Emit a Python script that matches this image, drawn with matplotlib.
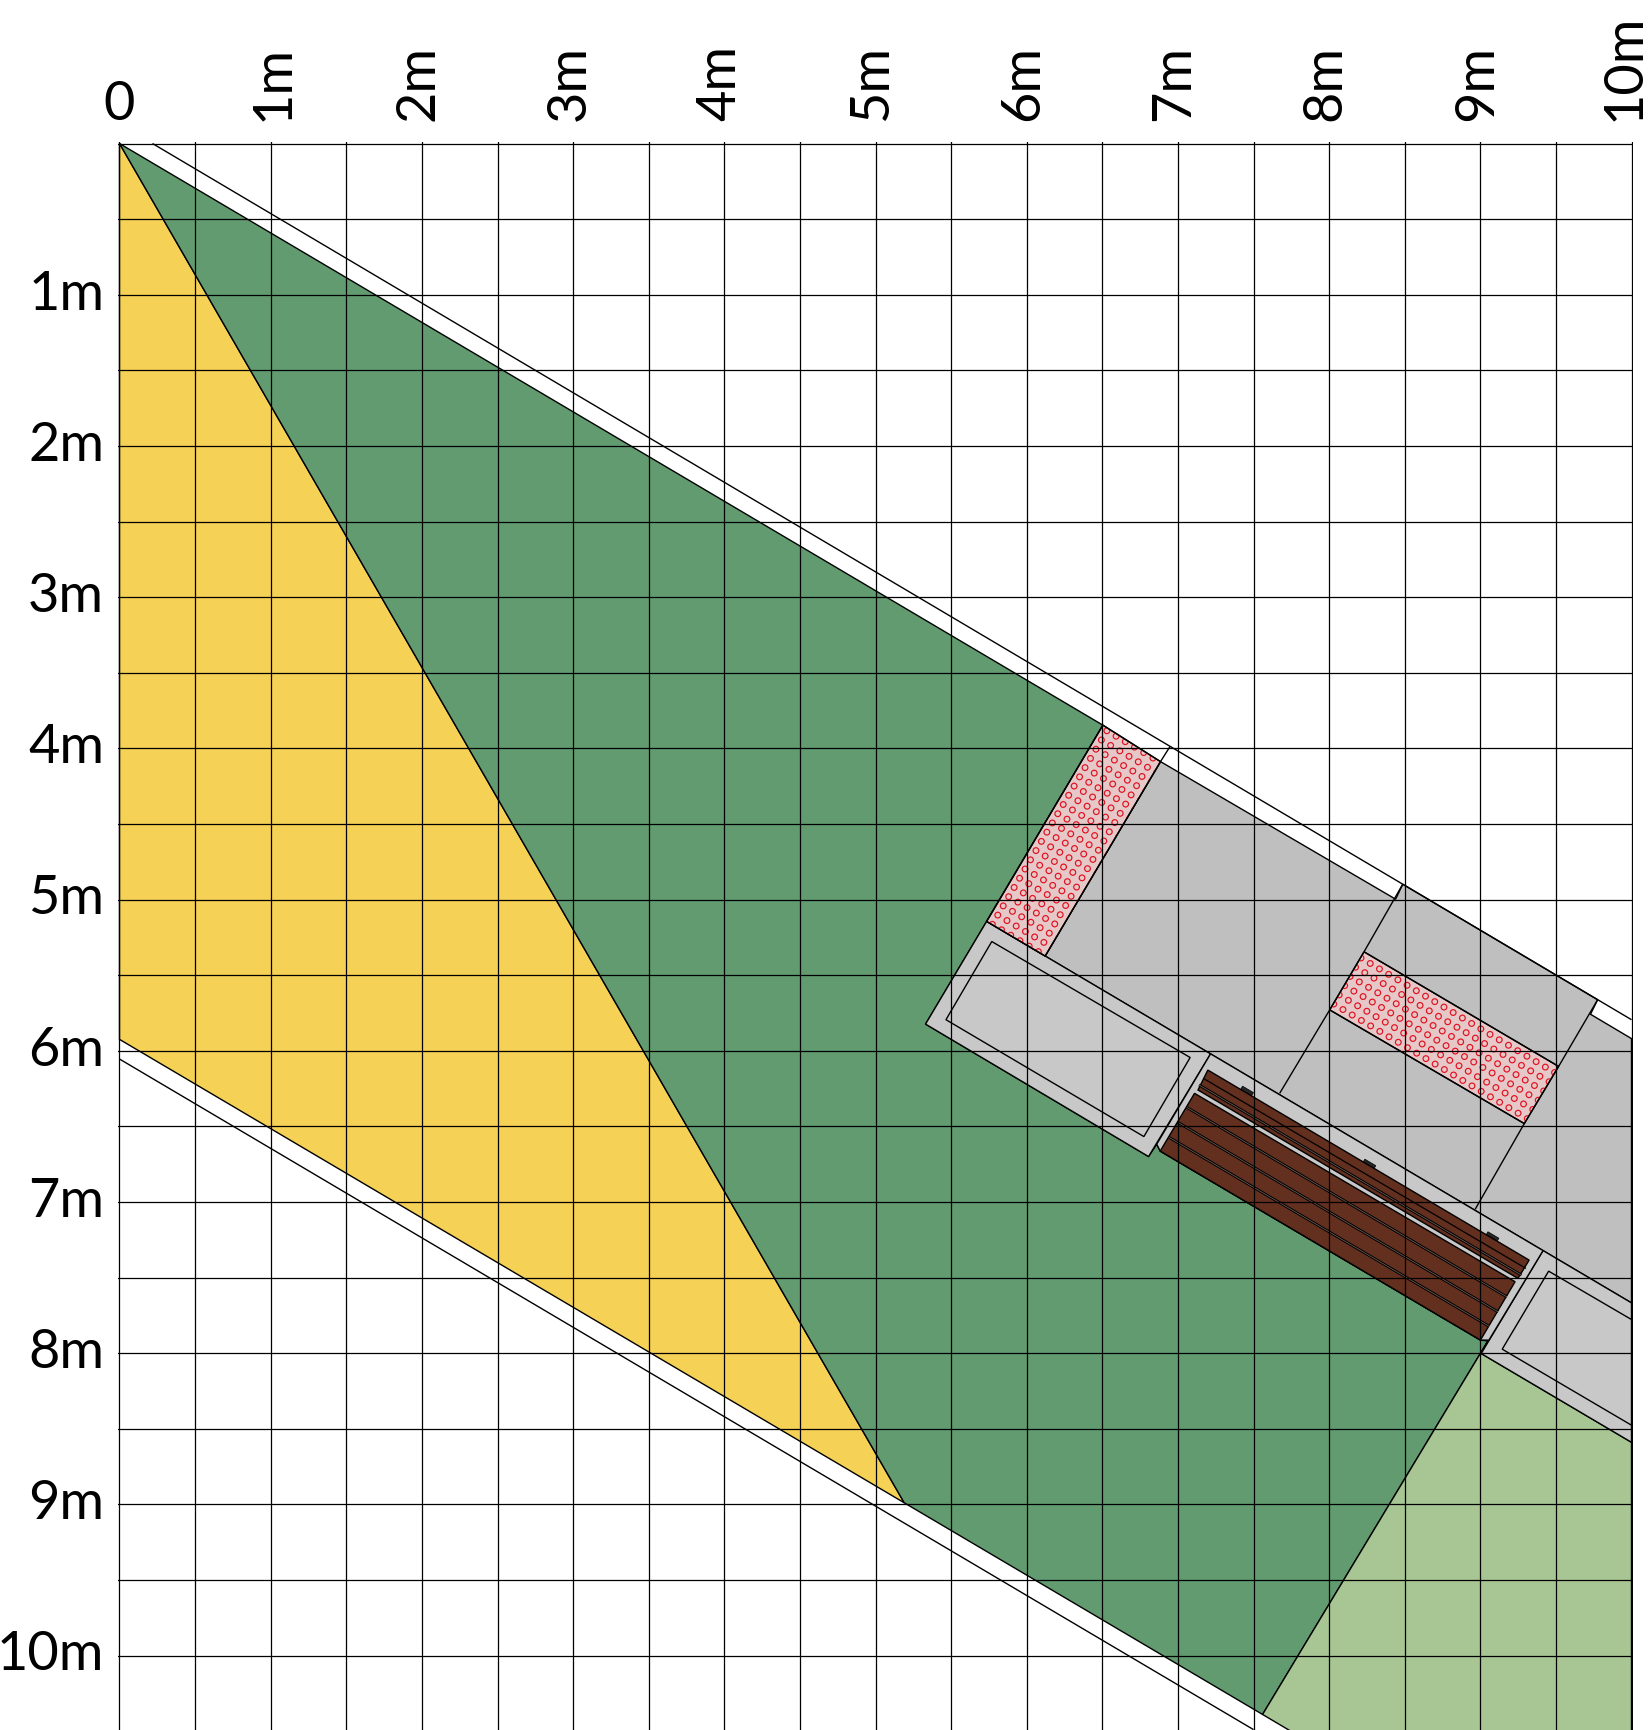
import numpy as np
import matplotlib
matplotlib.use("Agg")
import matplotlib.pyplot as plt
from matplotlib.patches import Polygon
from matplotlib.transforms import Affine2D

plt.rcParams['font.family'] = ['Lato', 'DejaVu Sans']

# ---------- values, in metres, read from the plan ----------
major_ticks = list(range(0, 11))
minor_ticks = [i + 0.5 for i in range(0, 10)]
x_tick_labels = ['0', '1m', '2m', '3m', '4m', '5m', '6m', '7m', '8m', '9m', '10m']
y_tick_labels = ['', '1m', '2m', '3m', '4m', '5m', '6m', '7m', '8m', '9m', '10m']

yellow_area = [(0, 0), (5.19, 8.99), (0, 5.925)]
green_area = [(0, 0), (6.504, 3.847), (5.735, 5.145), (5.331, 5.824), (6.806, 6.70),
              (6.86, 6.618), (6.883, 6.664), (9.001, 7.914), (9.05, 7.92), (7.56, 10.39), (5.19, 8.99)]
lightgreen_area = [(9.05, 7.92), (7.56, 10.39), (8.1, 10.71), (10, 10.71), (10, 8.59), (9.006, 8.003)]
paving_area = [(6.885, 4.088), (8.44, 4.998), (8.487, 4.899), (9.776, 5.663), (9.729, 5.759),
               (10, 5.92), (10, 7.668), (7.216, 6.021), (6.122, 5.374)]
pink_a = [(6.504, 3.847), (6.885, 4.088), (6.122, 5.374), (5.735, 5.145)]
pink_b = [(8.231, 5.346), (9.518, 6.104), (9.291, 6.482), (8.004, 5.730)]
planter_a_outer = [(5.735, 5.145), (7.216, 6.021), (6.806, 6.70), (5.331, 5.824)]
planter_a_inner = [(5.769, 5.278), (7.081, 6.045), (6.775, 6.568), (5.466, 5.795)]
planter_b_outer = [(9.415, 7.322), (10, 7.668), (10, 8.59), (9.006, 8.003)]
planter_b_inner = [(9.452, 7.458), (10, 7.778), (10, 8.477), (9.145, 7.974)]
bench_strip = [(7.216, 6.021), (9.415, 7.322), (9.057, 7.914), (9.001, 7.914), (6.883, 6.664), (6.86, 6.618)]
bench_back = [(7.198, 6.128), (9.323, 7.385), (9.249, 7.506), (7.133, 6.260)]
bench_seat = [(7.110, 6.282), (9.230, 7.528), (9.001, 7.914), (6.883, 6.664)]

outer_upper = [(0.218, 0), (10, 5.795)]
outer_lower = [(0, 6.055), (7.5, 10.49)]
tick_top_a = [(6.885, 4.088), (6.948, 3.988)]
dividers = [[(8.231, 5.346), (8.487, 4.899)], [(8.004, 5.730), (7.673, 6.282)],
            [(9.518, 6.104), (9.776, 5.663)], [(9.291, 6.482), (8.966, 7.049)]]
seat_joints = [[(7.059, 6.375), (9.175, 7.628)], [(7.0, 6.474), (9.117, 7.727)],
               [(6.941, 6.573), (9.057, 7.822)], [(7.14, 6.227), (9.272, 7.484)]]
back_line = [(7.168, 6.183), (9.302, 7.44)]
bracket_x = [7.457, 8.266, 9.08]
bracket_y = [6.267, 6.75, 7.23]
dots_anchor_a = (6.494, 3.945)
dots_anchor_b = (8.272, 5.423)

# ---------- colours ----------
C_YELLOW, C_GREEN, C_LGREEN = '#f5d155', '#629b70', '#a7c694'
C_PAVE, C_LIGHT, C_BROWN, C_PINK = '#bfbfbf', '#c8c8c8', '#632f1e', '#e7c8c8'
C_RED = '#e0101f'

fig = plt.figure(figsize=(16.48, 17.30), dpi=100)
W, H = 1648, 1730
M = 151.2
x0, y0 = 119.5, 143.5
xmin, xmax, ymin = -0.01, 10.01, -0.01
ymax = (H - y0) / M
ax = fig.add_axes([(x0 + xmin * M) / W, 0, (xmax - xmin) * M / W, (H - y0 - ymin * M) / H])
ax.set_xlim(xmin, xmax)
ax.set_ylim(ymax, ymin)
for s in ax.spines.values():
    s.set_visible(False)

LW = 1.0


def poly(pts, fc, z=1.0, lw=LW):
    p = Polygon(pts, closed=True, facecolor=fc, edgecolor='black', linewidth=lw, zorder=z,
                joinstyle='miter')
    ax.add_patch(p)
    return p


def seg(pts, z=1.9, lw=LW, c='black', **kw):
    a = np.array(pts)
    ax.plot(a[:, 0], a[:, 1], color=c, lw=lw, zorder=z, solid_capstyle='butt', **kw)


poly(yellow_area, C_YELLOW, 1.0)
poly(green_area, C_GREEN, 1.05)
poly(lightgreen_area, C_LGREEN, 1.1)
poly(paving_area, C_PAVE, 1.2)
for d in dividers:
    seg(d, 1.3)
poly(planter_a_outer, C_LIGHT, 1.4)
poly(planter_a_inner, C_LIGHT, 1.45)
poly(planter_b_outer, C_LIGHT, 1.4)
poly(planter_b_inner, C_LIGHT, 1.45)
poly(bench_strip, C_LIGHT, 1.4)
poly(bench_back, C_BROWN, 1.5)
poly(bench_seat, C_BROWN, 1.5)

# tactile paving: a square grid of small rings, turned with the kerb
ux, uy = 0.861, 0.5095
STEP = 0.0708
idx = np.arange(-40, 41)
ii, jj = np.meshgrid(idx, idx)
for pts, anchor in ((pink_a, dots_anchor_a), (pink_b, dots_anchor_b)):
    p = poly(pts, C_PINK, 1.6)
    sx = anchor[0] + STEP * (ii * ux - jj * uy)
    sy = anchor[1] + STEP * (ii * uy + jj * ux)
    sc = ax.scatter(sx.ravel(), sy.ravel(), s=17, facecolors='none', edgecolors=C_RED,
                    linewidths=0.85, zorder=1.65)
    sc.set_clip_path(p)
    seg(pts + pts[:1], 1.7)

seg(outer_upper)
seg(outer_lower)
seg(tick_top_a)
for j in seat_joints:
    seg(j, 1.8, lw=2.0)
    seg(j, 1.85, lw=0.5, c='#7a6a62')
seg(back_line, 1.8, lw=0.9)
for bx, by in zip(bracket_x, bracket_y):
    a = 0.042
    b = 0.013
    rect = [(bx - a * ux - b * -uy, by - a * uy - b * ux), (bx + a * ux - b * -uy, by + a * uy - b * ux),
            (bx + a * ux + b * -uy, by + a * uy + b * ux), (bx - a * ux + b * -uy, by - a * uy + b * ux)]
    ax.add_patch(Polygon(rect, closed=True, facecolor='#262626', edgecolor='black', lw=0.5, zorder=1.45))

# ---------- grid and labels ----------
ax.set_xticks(major_ticks, x_tick_labels)
ax.set_yticks(major_ticks, y_tick_labels)
ax.set_xticks(minor_ticks, minor=True)
ax.set_yticks(minor_ticks, minor=True)
ax.xaxis.tick_top()
ax.tick_params(which='both', length=0)
ax.tick_params(axis='both', which='major', labelsize=39, pad=14)
ax.tick_params(axis='y', which='major', pad=10)
ax.set_axisbelow(False)
ax.grid(True, which='both', color='black', linewidth=0.9)
ax.set_xlim(xmin, xmax)
ax.set_ylim(ymax, ymin)

for i, lab in enumerate(ax.get_xticklabels()):
    if i == 0:
        lab.set_verticalalignment('bottom')
        lab.set_transform(lab.get_transform() + Affine2D().translate(0, -6))
    else:
        lab.set_rotation(90)
        lab.set_horizontalalignment('center')
        lab.set_verticalalignment('top')
        rise = 109 if i == 10 else 78
        shift = 2 if i == 1 else (-7 if i == 10 else -4)
        lab.set_transform(lab.get_transform() + Affine2D().translate(shift, rise))
for lab in ax.get_yticklabels():
    lab.set_verticalalignment('baseline')
    lab.set_transform(lab.get_transform() + Affine2D().translate(0, -15))

fig.savefig('out.png', dpi=100)
